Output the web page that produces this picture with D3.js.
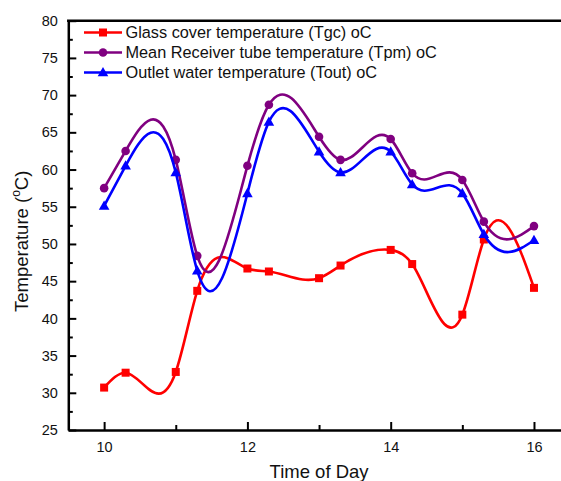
<!DOCTYPE html>
<html>
<head>
<meta charset="utf-8">
<script src="https://cdn.jsdelivr.net/npm/d3@7"></script>
<style>
  html, body { margin: 0; padding: 0; background: #fff; }
  svg { display: block; font-family: "Liberation Sans", Arial, Helvetica, sans-serif; }
</style>
</head>
<body>
<svg id="chart" width="561" height="481"></svg>
<script>
// Time of day (hours) and measured temperatures (°C)
const hours        = [10, 10.3, 11, 11.3, 12, 12.3, 13, 13.3, 14, 14.3, 15, 15.3, 16];
const glassCover   = [30.7, 32.7, 32.8, 43.7, 46.7, 46.3, 45.4, 47.1, 49.2, 47.3, 40.5, 50.6, 44.1];
const receiverTube = [57.5, 62.5, 61.3, 48.4, 60.5, 68.7, 64.4, 61.3, 64.1, 59.5, 58.6, 53.0, 52.4];
const outletWater  = [55.1, 60.5, 59.6, 46.4, 56.8, 66.4, 62.4, 59.6, 62.4, 58.0, 56.8, 51.3, 50.5];

const seriesNames  = [
  "Glass cover temperature (Tgc) oC",
  "Mean Receiver tube temperature (Tpm) oC",
  "Outlet water temperature (Tout) oC"
];
const seriesColors = ["#ff0000", "#800080", "#0000ff"];
const seriesShapes = ["square", "circle", "triangle"];

const xMajorTicks = [10, 12, 14, 16];
const xMinorTicks = [11, 13, 15];
const yMajorTicks = [25, 30, 35, 40, 45, 50, 55, 60, 65, 70, 75, 80];
const yMinorTicks = [27.5, 32.5, 37.5, 42.5, 47.5, 52.5, 57.5, 62.5, 67.5, 72.5, 77.5];

const svg = d3.select("#chart");
const plotLeft = 68.3, plotRight = 569.8, plotTop = 20.7, plotBottom = 430;

const x = d3.scaleLinear().domain([9.5, 16.5]).range([plotLeft, plotRight]);
const y = d3.scaleLinear().domain([25, 80]).range([plotBottom, plotTop]);

// Natural cubic spline in x, emitted as exact cubic Bézier segments
function curveSplineX(context) {
  let pts = [];
  return {
    areaStart() {}, areaEnd() {},
    lineStart() { pts = []; },
    point(px, py) { pts.push([+px, +py]); },
    lineEnd() {
      const n = pts.length;
      if (!n) return;
      context.moveTo(pts[0][0], pts[0][1]);
      if (n === 1) return;
      const h = [], M = new Array(n).fill(0);
      for (let i = 0; i < n - 1; i++) h.push(pts[i + 1][0] - pts[i][0]);
      if (n > 2) {
        // tridiagonal system for second derivatives (M0 = Mn = 0)
        const m = n - 2, a = [], b = [], c = [], d = [];
        for (let i = 1; i <= m; i++) {
          a.push(h[i - 1]);
          b.push(2 * (h[i - 1] + h[i]));
          c.push(h[i]);
          d.push(6 * ((pts[i + 1][1] - pts[i][1]) / h[i] - (pts[i][1] - pts[i - 1][1]) / h[i - 1]));
        }
        for (let i = 1; i < m; i++) {
          const w = a[i] / b[i - 1];
          b[i] -= w * c[i - 1];
          d[i] -= w * d[i - 1];
        }
        const sol = new Array(m);
        sol[m - 1] = d[m - 1] / b[m - 1];
        for (let i = m - 2; i >= 0; i--) sol[i] = (d[i] - c[i] * sol[i + 1]) / b[i];
        for (let i = 0; i < m; i++) M[i + 1] = sol[i];
      }
      for (let i = 0; i < n - 1; i++) {
        const [x0, y0] = pts[i], [x1, y1] = pts[i + 1], hh = h[i];
        const s = (y1 - y0) / hh;
        const m0 = s - hh * (2 * M[i] + M[i + 1]) / 6;
        const m1 = s + hh * (M[i] + 2 * M[i + 1]) / 6;
        context.bezierCurveTo(x0 + hh / 3, y0 + m0 * hh / 3, x1 - hh / 3, y1 - m1 * hh / 3, x1, y1);
      }
    }
  };
}

const line = d3.line()
  .x(d => x(d[0]))
  .y(d => y(d[1]))
  .curve(curveSplineX);

function marker(sel, shape, color) {
  if (shape === "square") {
    sel.append("rect").attr("x", -4).attr("y", -4).attr("width", 8).attr("height", 8).attr("fill", color);
  } else if (shape === "circle") {
    sel.append("circle").attr("r", 4.3).attr("fill", color);
  } else {
    sel.append("path").attr("d", "M0,-5.5L5.3,3.8L-5.3,3.8Z").attr("fill", color);
  }
}

// Axes
const axisStyle = g => {
  g.select(".domain").attr("stroke", "#000").attr("stroke-width", 2.5);
  g.selectAll(".tick line").attr("stroke", "#000").attr("stroke-width", 2);
  g.selectAll(".tick text").attr("fill", "#111").attr("font-size", 14.5)
    .attr("font-family", "Liberation Sans, Arial, sans-serif");
};

svg.append("g").attr("transform", `translate(0,${plotBottom})`)
  .call(d3.axisBottom(x).tickValues(xMinorTicks).tickSize(-5).tickFormat(""))
  .call(g => g.select(".domain").remove())
  .call(g => g.selectAll(".tick line").attr("stroke", "#000").attr("stroke-width", 2));

svg.append("g").attr("transform", `translate(${plotLeft},0)`)
  .call(d3.axisLeft(y).tickValues(yMinorTicks).tickSize(-4.5).tickFormat(""))
  .call(g => g.select(".domain").remove())
  .call(g => g.selectAll(".tick line").attr("stroke", "#000").attr("stroke-width", 2));

svg.append("g").attr("transform", `translate(0,${plotBottom})`)
  .call(d3.axisBottom(x).tickValues(xMajorTicks).tickSize(-8).tickSizeOuter(0).tickPadding(12).tickFormat(d3.format("d")))
  .call(axisStyle);

svg.append("g").attr("transform", `translate(${plotLeft},0)`)
  .call(d3.axisLeft(y).tickValues(yMajorTicks).tickSize(-8).tickSizeOuter(0).tickPadding(10.5).tickFormat(d3.format("d")))
  .call(axisStyle);

// Frame top edge
svg.append("line")
  .attr("x1", plotLeft - 1.25).attr("x2", plotRight)
  .attr("y1", plotTop).attr("y2", plotTop)
  .attr("stroke", "#000").attr("stroke-width", 2.5);

// Series
const series = [glassCover, receiverTube, outletWater];
series.forEach((vals, i) => {
  const data = hours.map((h, j) => [h, vals[j]]);
  svg.append("path")
    .datum(data)
    .attr("d", line)
    .attr("fill", "none")
    .attr("stroke", seriesColors[i])
    .attr("stroke-width", 2.6);
  svg.append("g").selectAll("g")
    .data(data)
    .join("g")
    .attr("transform", d => `translate(${x(d[0])},${y(d[1])})`)
    .each(function () { marker(d3.select(this), seriesShapes[i], seriesColors[i]); });
});

// Legend
const legendRows = [32.5, 52.5, 72.5];
seriesNames.forEach((name, i) => {
  const g = svg.append("g").attr("transform", `translate(0,${legendRows[i]})`);
  g.append("line").attr("x1", 84).attr("x2", 122).attr("y1", 0).attr("y2", 0)
    .attr("stroke", seriesColors[i]).attr("stroke-width", 2.6);
  marker(g.append("g").attr("transform", "translate(103,0)"), seriesShapes[i], seriesColors[i]);
  g.append("text").attr("x", 125.5).attr("y", 0).attr("dy", "0.36em")
    .attr("font-size", 16.3).attr("fill", "#111").text(name);
});

// Axis titles
svg.append("text")
  .attr("x", (plotLeft + plotRight) / 2).attr("y", 478)
  .attr("text-anchor", "middle").attr("font-size", 18.5).attr("fill", "#111")
  .text("Time of Day");

const yTitle = svg.append("text")
  .attr("transform", "translate(28,312) rotate(-90)")
  .attr("text-anchor", "start").attr("font-size", 18.5).attr("fill", "#111");
yTitle.append("tspan").text("Temperature (");
yTitle.append("tspan").attr("font-size", 12).attr("dy", "-0.65em").text("o");
yTitle.append("tspan").attr("dy", "0.42em").text("C)");
</script>
</body>
</html>
